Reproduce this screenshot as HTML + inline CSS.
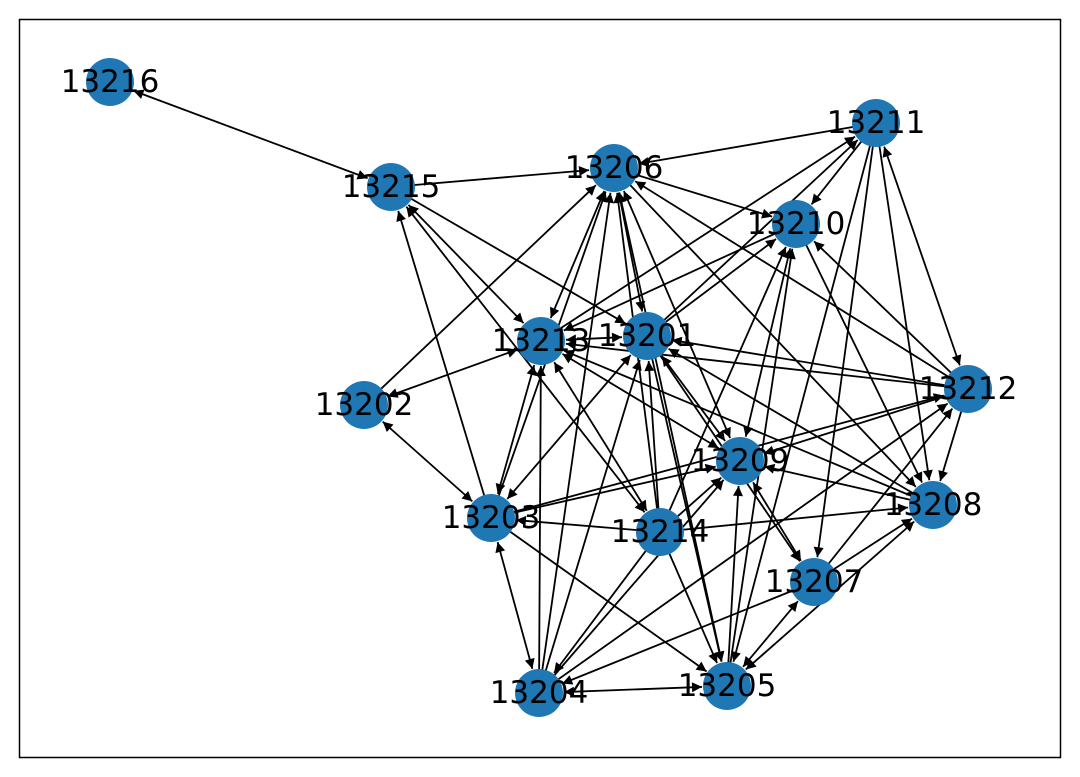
<!DOCTYPE html>
<html><head><meta charset="utf-8">
<style>
html,body{margin:0;padding:0;background:#fff;}
svg{display:block;}
text{font-family:"DejaVu Sans","Liberation Sans",sans-serif;font-size:31px;fill:#000;}
</style></head>
<body>
<svg id="s" width="1080" height="777" viewBox="0 0 1080 777" xmlns="http://www.w3.org/2000/svg">
<defs>
<marker id="a" viewBox="0 0 10 10" refX="10" refY="5" markerWidth="12" markerHeight="10" markerUnits="userSpaceOnUse" orient="auto-start-reverse">
<path d="M0,0 L10,5 L0,10 z" fill="#000"/>
</marker>
</defs>
<rect x="19.5" y="19.5" width="1041" height="738" fill="#fff" stroke="#000" stroke-width="1.5"/>
<g id="edges"></g>
<g fill="#1f77b4">
<circle cx="110" cy="82" r="24"/>
<circle cx="391" cy="187" r="24"/>
<circle cx="614" cy="168" r="24"/>
<circle cx="876" cy="123" r="24"/>
<circle cx="796" cy="224" r="24"/>
<circle cx="541" cy="341" r="24"/>
<circle cx="647" cy="336" r="24"/>
<circle cx="364" cy="405" r="24"/>
<circle cx="968" cy="389" r="24"/>
<circle cx="740" cy="461" r="24"/>
<circle cx="933" cy="505" r="24"/>
<circle cx="491" cy="518" r="24"/>
<circle cx="660" cy="532" r="24"/>
<circle cx="814" cy="582" r="24"/>
<circle cx="539" cy="693" r="24"/>
<circle cx="727" cy="686" r="24"/>
</g>
<g text-anchor="middle" dominant-baseline="central">
<text x="110" y="82">13216</text>
<text x="391" y="187">13215</text>
<text x="614" y="168">13206</text>
<text x="876" y="123">13211</text>
<text x="796" y="224">13210</text>
<text x="541" y="341">13213</text>
<text x="647" y="336">13201</text>
<text x="364" y="405">13202</text>
<text x="968" y="389">13212</text>
<text x="740" y="461">13209</text>
<text x="933" y="505">13208</text>
<text x="491" y="518">13203</text>
<text x="660" y="532">13214</text>
<text x="814" y="582">13207</text>
<text x="539" y="693">13204</text>
<text x="727" y="686">13205</text>
</g>
</svg>
<script>
var P={16:[110,82],15:[391,187],6:[614,168],11:[876,123],10:[796,224],13:[541,341],1:[647,336],2:[364,405],12:[968,389],9:[740,461],8:[933,505],3:[491,518],14:[660,532],7:[814,582],4:[539,693],5:[727,686]};
var E=[[16,15,1],[15,6,0],[15,13,1],[15,1,0],[14,15,1],[3,15,0],
[11,6,0],[6,10,0],[13,6,1],[1,6,1],[9,6,1],[5,6,1],[6,8,0],[12,6,0],[4,6,0],[2,6,0],[14,6,0],[3,6,0],
[11,10,0],[13,11,0],[1,11,0],[11,12,1],[11,8,0],[11,5,0],[11,7,0],
[10,13,0],[1,10,0],[9,10,1],[12,10,0],[10,8,0],[5,10,0],[14,10,0],
[13,1,1],[13,2,1],[12,13,0],[9,13,1],[8,13,0],[3,13,1],[4,13,0],[14,13,1],
[12,1,0],[1,9,1],[8,1,0],[1,3,1],[4,1,0],[1,5,0],[14,1,0],[1,7,0],
[12,9,0],[12,8,0],[7,12,0],[4,12,0],[3,12,0],
[8,9,0],[3,9,0],[14,9,0],[5,9,0],[9,7,1],[4,9,0],
[7,8,0],[8,5,1],[14,8,0],
[14,3,0],[3,4,1],[3,5,0],[2,3,1],
[14,4,0],[14,5,0],[7,5,1],[7,4,0],[4,5,1]];
var g=document.getElementById('edges'),ns='http://www.w3.org/2000/svg',R=25;
E.forEach(function(e){var a=P[e[0]],b=P[e[1]];var dx=b[0]-a[0],dy=b[1]-a[1],d=Math.sqrt(dx*dx+dy*dy),ux=dx/d,uy=dy/d;
var l=document.createElementNS(ns,'line');
l.setAttribute('x1',a[0]+ux*(e[2]?R:0));l.setAttribute('y1',a[1]+uy*(e[2]?R:0));
l.setAttribute('x2',b[0]-ux*R);l.setAttribute('y2',b[1]-uy*R);
l.setAttribute('stroke','#000');l.setAttribute('stroke-width','1.8');
l.setAttribute('marker-end','url(#a)');if(e[2])l.setAttribute('marker-start','url(#a)');
g.appendChild(l);});
</script>
</body></html>
